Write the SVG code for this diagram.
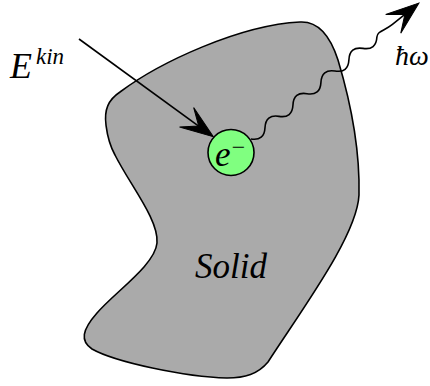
<svg xmlns="http://www.w3.org/2000/svg" width="430" height="386" viewBox="0 0 430 386">
  <style>
    .lbl { font-family: "Liberation Serif", "Times New Roman", "DejaVu Serif", serif; font-style: italic; fill: #000; }
    .edge { fill: none; stroke: #000; stroke-width: 1.6; }
  </style>
  <defs>
    <marker id="stealth" markerUnits="userSpaceOnUse" markerWidth="34" markerHeight="26" refX="23" refY="12" orient="auto" overflow="visible">
      <path d="M0,0 L33,12 L0,24 L15,12 Z" fill="#000" stroke="#000" stroke-width="1" stroke-linejoin="miter"/>
    </marker>
  </defs>
  <rect width="430" height="386" fill="#fff"/>

  <g id="solid">
    <path d="M 106,125 C 104,110 108,100 120,92 C 160,62 240,25 300,22 C 318,21 330,35 338,60 C 350,100 360,150 359,195 C 357,235 305,305 268,362 C 258,374 245,378 227,378 C 185,377 115,362 92,349 C 80,341 82,330 97,313 C 115,292 155,265 157,243 C 159,220 130,185 115,155 C 108,142 107,133 106,125 Z" fill="#aaaaaa" stroke="#000" stroke-width="1.6"/>
    <text class="lbl" x="195" y="278" font-size="35">Solid</text>
  </g>

  <g id="connectors">
    <path class="edge" d="M 79,39 L 205.2,130.8" marker-end="url(#stealth)"/>
    <g transform="translate(251,139) rotate(-39)">
      <path class="edge" d="M 0,0 q 9,10 18,0 t 18,0 t 18,0 t 18,0 t 18,0 t 18,0 t 18,0 t 18,0 t 18,0 C 166,-4.5 172,0 182,0 L 206,0" marker-end="url(#stealth)"/>
    </g>
  </g>

  <g id="electron">
    <circle cx="231" cy="152.5" r="23" fill="#80ff80" stroke="#000" stroke-width="1.6"/>
    <text class="lbl" x="215" y="166" font-size="35">e</text>
    <text class="lbl" x="230" y="155" font-size="24" font-style="normal">−</text>
  </g>

  <g id="ekin">
    <text class="lbl" x="10" y="78" font-size="36">E</text>
    <text class="lbl" x="36" y="64" font-size="23">kin</text>
  </g>

  <g id="hbar-omega">
    <text class="lbl" x="395" y="65" font-size="28">ħω</text>
  </g>
</svg>
